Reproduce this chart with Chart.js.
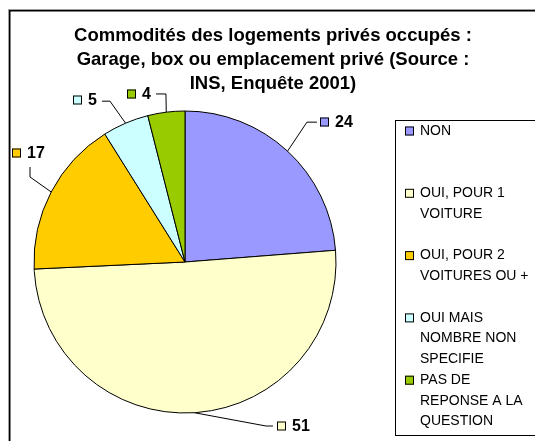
<!DOCTYPE html>
<html>
<head>
<meta charset="utf-8">
<script src="https://cdn.jsdelivr.net/npm/chart.js@4/dist/chart.umd.min.js"></script>
<style>
html,body{margin:0;padding:0;background:#fff;}
#wrap{position:relative;width:535px;height:441px;}
</style>
</head>
<body>
<div id="wrap"><canvas id="c" width="535" height="441"></canvas></div>
<script>
// ---- data ----
const titleLines = [
  "Commodités des logements privés occupés :",
  "Garage, box ou emplacement privé (Source :",
  "INS, Enquête 2001)"
];
const categories = [
  ["NON"],
  ["OUI, POUR 1", "VOITURE"],
  ["OUI, POUR 2", "VOITURES OU +"],
  ["OUI MAIS", "NOMBRE NON", "SPECIFIE"],
  ["PAS DE", "REPONSE A LA", "QUESTION"]
];
const values = [24, 51, 17, 5, 4];

// ---- styles ----
const sliceColors = ["#9999FF", "#FFFFCC", "#FFCC00", "#CCFFFF", "#99CC00"];
const FONT = '"Liberation Sans", Arial, sans-serif';
// label placement relative to slice edge point: square (left, centre-y), elbow, line end
const labelLayout = [
  {sq:[32.4,-29],  elbow:[19.4,-29],   end:[29.4,-29]},
  {sq:[82.6,13.3], elbow:[71.6,13.3],  end:[78.6,13.3]},
  {sq:[-39.2,-39], elbow:[-21.2,-15],  end:[-21.2,-25]},
  {sq:[-52.6,-23], elbow:[-15.6,-22],  end:[-23.6,-22]},
  {sq:[-39.3,-18.2], elbow:[-0.3,-18.2], end:[-10.3,-18.2]}
];

const framePlugin = {
  id: 'frame',
  beforeDraw(chart) {
    const ctx = chart.ctx;
    ctx.save();
    ctx.fillStyle = '#ffffff';
    ctx.fillRect(0, 0, chart.width, chart.height);
    ctx.fillStyle = '#a0a0a0';
    ctx.fillRect(8, 9, chart.width, 1);
    ctx.fillRect(8, 9, 1, chart.height);
    ctx.fillStyle = '#000';
    ctx.fillRect(9, 10, chart.width, 1.5);
    ctx.fillRect(9, 10, 1.5, chart.height);
    ctx.restore();
  },
  afterDraw(chart) {
    const ctx = chart.ctx;
    ctx.save();
    // title
    ctx.fillStyle = '#000';
    ctx.font = 'bold 18.5px ' + FONT;
    ctx.textAlign = 'center';
    ctx.textBaseline = 'alphabetic';
    titleLines.forEach((t, i) => ctx.fillText(t, 273, 40.5 + i * 24));

    // legend box
    ctx.strokeStyle = '#000';
    ctx.lineWidth = 1;
    ctx.strokeRect(395.5, 120.5, 200, 315);
    ctx.font = '14px ' + FONT;
    ctx.textAlign = 'left';
    ctx.textBaseline = 'middle';
    const ds = chart.data.datasets[0];
    let y = 131;
    chart.data.labels.forEach((lines, i) => {
      ctx.fillStyle = ds.backgroundColor[i];
      ctx.fillRect(405, y - 4.5, 9, 9);
      ctx.strokeStyle = '#000';
      ctx.strokeRect(405.5, y - 4, 8, 8);
      ctx.fillStyle = '#000';
      lines.forEach((ln, j) => ctx.fillText(ln, 420, y + j * 20.7));
      y += 62.3;
    });

    // data labels with leader lines
    const meta = chart.getDatasetMeta(0);
    ctx.font = 'bold 16px ' + FONT;
    meta.data.forEach((arc, i) => {
      const p = arc.getProps(['x','y','startAngle','endAngle','outerRadius'], true);
      const mid = (p.startAngle + p.endAngle) / 2;
      const ex = p.x + Math.cos(mid) * p.outerRadius;
      const ey = p.y + Math.sin(mid) * p.outerRadius;
      const L = labelLayout[i];
      ctx.strokeStyle = '#000';
      ctx.lineWidth = 1;
      ctx.beginPath();
      ctx.moveTo(ex, ey);
      ctx.lineTo(ex + L.elbow[0], ey + L.elbow[1]);
      ctx.lineTo(ex + L.end[0], ey + L.end[1]);
      ctx.stroke();
      const sx = Math.round(ex + L.sq[0]), sy = Math.round(ey + L.sq[1]);
      ctx.fillStyle = ds.backgroundColor[i];
      ctx.fillRect(sx, sy - 4.5, 9, 9);
      ctx.strokeRect(sx + 0.5, sy - 4, 8, 8);
      ctx.fillStyle = '#000';
      ctx.textBaseline = 'middle';
      ctx.fillText(String(ds.data[i]), sx + 15, sy + 1);
    });
    ctx.restore();
  }
};

new Chart(document.getElementById('c'), {
  type: 'pie',
  data: {
    labels: categories,
    datasets: [{
      data: values,
      backgroundColor: sliceColors,
      borderColor: '#000',
      borderWidth: 1
    }]
  },
  options: {
    responsive: false,
    animation: false,
    layout: { padding: { left: 33.5, right: 198.5, top: 110.5, bottom: 27.5 } },
    plugins: {
      legend: { display: false },
      title: { display: false },
      tooltip: { enabled: false }
    }
  },
  plugins: [framePlugin]
});
</script>
</body>
</html>
